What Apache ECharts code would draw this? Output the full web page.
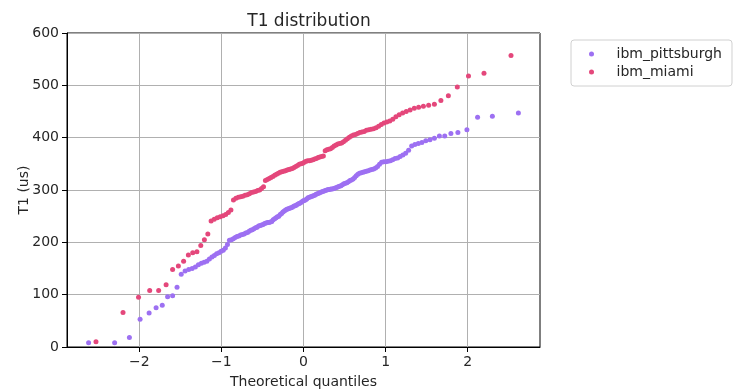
<!DOCTYPE html>
<html>
<head>
<meta charset="utf-8">
<script src="https://cdn.jsdelivr.net/npm/echarts@6/dist/echarts.min.js"></script>
<style>
  html, body { margin: 0; padding: 0; background: #fff; }
  #chart { width: 733px; height: 390px; }
</style>
</head>
<body>
<div id="chart"></div>
<script>
// theoretical quantiles (normal order statistics) and sorted T1 values
const pittsburghQ = [
  -2.617, -2.300, -2.120, -1.990, -1.880, -1.795, -1.720, -1.655, -1.594, -1.540,
  -1.489, -1.442, -1.398, -1.356, -1.317, -1.280, -1.244, -1.210, -1.177, -1.146,
  -1.115, -1.086, -1.058, -1.030, -1.003, -0.977, -0.951, -0.926, -0.902, -0.878,
  -0.855, -0.832, -0.810, -0.787, -0.766, -0.744, -0.724, -0.703, -0.682, -0.662,
  -0.642, -0.623, -0.604, -0.584, -0.566, -0.547, -0.528, -0.510, -0.492, -0.474,
  -0.456, -0.438, -0.421, -0.403, -0.386, -0.369, -0.351, -0.334, -0.318, -0.301,
  -0.284, -0.267, -0.251, -0.234, -0.218, -0.202, -0.185, -0.169, -0.153, -0.136,
  -0.120, -0.104, -0.088, -0.072, -0.055, -0.039, -0.023, -0.007,
  0.007, 0.023, 0.039, 0.055, 0.072, 0.088, 0.104, 0.120, 0.136, 0.153,
  0.169, 0.185, 0.202, 0.218, 0.234, 0.251, 0.267, 0.284, 0.301, 0.318,
  0.334, 0.351, 0.369, 0.386, 0.403, 0.421, 0.438, 0.456, 0.474, 0.492,
  0.510, 0.528, 0.547, 0.566, 0.584, 0.604, 0.623, 0.642, 0.662, 0.682,
  0.703, 0.724, 0.744, 0.766, 0.787, 0.810, 0.832, 0.855, 0.878, 0.902,
  0.926, 0.951, 0.977, 1.003, 1.030, 1.058, 1.086, 1.115, 1.146, 1.177,
  1.210, 1.244, 1.280, 1.317, 1.356, 1.398, 1.442, 1.489, 1.540, 1.594,
  1.655, 1.720, 1.795, 1.880, 1.990, 2.120, 2.300, 2.617
];
const pittsburghT1 = [
  8, 8, 18, 53, 65, 75, 80, 96, 98, 114,
  139, 145, 148, 150, 153, 157, 160, 162, 164, 168,
  172, 175, 178, 180, 183, 185, 189, 196, 204, 205,
  207, 209, 211, 212, 214, 215, 216, 218, 219, 221,
  223, 224, 226, 228, 229, 231, 232, 233, 234, 236,
  237, 238, 238, 239, 240, 243, 245, 247, 249, 250,
  253, 255, 258, 260, 262, 263, 264, 265, 266, 267,
  269, 270, 271, 273, 274, 275, 277, 279, 280, 281,
  283, 285, 286, 287, 288, 289, 290, 292, 293, 294,
  295, 296, 297, 298, 299, 300, 301, 301, 302, 302,
  303, 304, 305, 306, 307, 308, 310, 312, 313, 314,
  316, 318, 319, 321, 324, 327, 330, 332, 333, 334,
  335, 336, 337, 338, 339, 340, 342, 345, 349, 353,
  354, 354, 355, 356, 358, 360, 361, 364, 367, 370,
  376, 384, 387, 389, 391, 394, 396, 399, 403, 403,
  408, 410, 415, 439, 441, 447
];
const miamiQ = [
  -2.527, -2.198, -2.009, -1.873, -1.764, -1.673, -1.594, -1.524, -1.460, -1.402,
  -1.349, -1.298, -1.251, -1.207, -1.165, -1.125, -1.087, -1.050, -1.014, -0.980,
  -0.947, -0.915, -0.884, -0.853, -0.823, -0.794, -0.766, -0.739, -0.712, -0.685,
  -0.659, -0.633, -0.608, -0.583, -0.559, -0.534, -0.511, -0.487, -0.464, -0.441,
  -0.418, -0.396, -0.373, -0.351, -0.329, -0.307, -0.285, -0.264, -0.242, -0.221,
  -0.199, -0.178, -0.157, -0.136, -0.115, -0.094, -0.073, -0.052, -0.031, -0.010,
  0.010, 0.031, 0.052, 0.073, 0.094, 0.115, 0.136, 0.157, 0.178, 0.199,
  0.221, 0.242, 0.264, 0.285, 0.307, 0.329, 0.351, 0.373, 0.396, 0.418,
  0.441, 0.464, 0.487, 0.511, 0.534, 0.559, 0.583, 0.608, 0.633, 0.659,
  0.685, 0.712, 0.739, 0.766, 0.794, 0.823, 0.853, 0.884, 0.915, 0.947,
  0.980, 1.014, 1.050, 1.087, 1.125, 1.165, 1.207, 1.251, 1.298, 1.349,
  1.402, 1.460, 1.524, 1.594, 1.673, 1.764, 1.873, 2.009, 2.198, 2.527
];
const miamiT1 = [
  10, 66, 95, 108, 108, 119, 148, 155, 164, 176,
  180, 182, 194, 205, 216, 241, 244, 247, 249, 251,
  253, 257, 262, 281, 284, 286, 287, 288, 290, 291,
  293, 295, 296, 297, 299, 300, 303, 306, 318, 320,
  322, 324, 326, 328, 330, 332, 334, 335, 336, 337,
  338, 339, 340, 341, 343, 345, 347, 349, 350, 351,
  353, 355, 356, 356, 357, 358, 359, 360, 362, 363,
  364, 365, 375, 377, 378, 379, 381, 384, 386, 388,
  389, 390, 392, 395, 398, 401, 403, 405, 406, 408,
  410, 411, 412, 414, 415, 416, 417, 419, 422, 425,
  428, 430, 432, 435, 440, 444, 447, 450, 453, 456,
  458, 460, 462, 464, 471, 480, 497, 518, 523, 557
];
const xTicks = [-2, -1, 0, 1, 2];
const yTicks = [0, 100, 200, 300, 400, 500, 600];

const font = 'DejaVu Sans';
const ink = '#262626';

const chart = echarts.init(document.getElementById('chart'));

const pair = (qs, ts) => qs.map((q, i) => [q, ts[i]]);

const option = {
  animation: false,
  textStyle: { fontFamily: font },
  title: {
    text: 'T1 distribution',
    left: 304,
    top: 8,
    textAlign: 'center',
    textStyle: { fontFamily: font, fontSize: 17, fontWeight: 'normal', color: ink }
  },
  legend: {
    orient: 'vertical',
    left: 571,
    top: 40,
    padding: [6, 10, 6, 18],
    itemGap: 2,
    itemWidth: 40,
    itemHeight: 5,
    icon: 'circle',
    backgroundColor: '#fff',
    borderColor: '#d0d0d0',
    borderWidth: 1,
    borderRadius: 3,
    textStyle: { fontFamily: font, fontSize: 14, color: ink, lineHeight: 16 },
    data: ['ibm_pittsburgh', 'ibm_miami']
  },
  grid: {
    left: 67,
    right: 193,
    top: 33,
    bottom: 43,
    show: true,
    borderColor: '#000',
    borderWidth: 1,
    containLabel: false,
    outerBoundsMode: 'none'
  },
  xAxis: {
    type: 'value',
    min: -2.88,
    max: 2.88,
    name: 'Theoretical quantiles',
    nameLocation: 'middle',
    nameGap: 28,
    nameMoveOverlap: false,
    nameTextStyle: { fontFamily: font, fontSize: 14, color: ink },
    axisLine: { show: true, onZero: false, lineStyle: { color: '#000', width: 1 } },
    axisTick: { show: true, length: 5, lineStyle: { color: '#000' }, customValues: xTicks },
    axisLabel: {
      margin: 8, fontFamily: font, fontSize: 14, color: ink,
      customValues: xTicks,
      formatter: v => (v < 0 ? '\u2212' + Math.abs(v) : String(v))
    },
    splitLine: { show: true, lineStyle: { color: '#b0b0b0', width: 1 }, customValues: xTicks }
  },
  yAxis: {
    type: 'value',
    min: 0,
    max: 600,
    interval: 100,
    name: 'T1 (us)',
    nameLocation: 'middle',
    nameGap: 36,
    nameMoveOverlap: false,
    nameTextStyle: { fontFamily: font, fontSize: 14, color: ink },
    axisLine: { show: true, onZero: false, lineStyle: { color: '#000', width: 1 } },
    axisTick: { show: true, length: 5, lineStyle: { color: '#000' } },
    axisLabel: { margin: 8, fontFamily: font, fontSize: 14, color: ink, customValues: yTicks },
    splitLine: { show: true, lineStyle: { color: '#b0b0b0', width: 1 } }
  },
  series: [
    {
      name: 'ibm_pittsburgh',
      type: 'scatter',
      symbolSize: 5,
      itemStyle: { color: '#9d70f2', opacity: 1 },
      data: pair(pittsburghQ, pittsburghT1)
    },
    {
      name: 'ibm_miami',
      type: 'scatter',
      symbolSize: 5,
      itemStyle: { color: '#e4477b', opacity: 1 },
      data: pair(miamiQ, miamiT1)
    }
  ]
};

chart.setOption(option);
</script>
</body>
</html>
